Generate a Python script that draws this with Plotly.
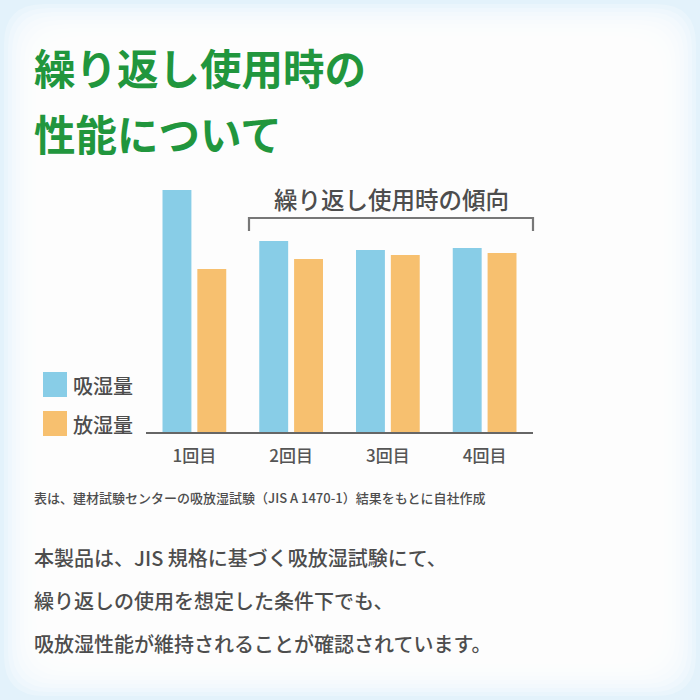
import plotly.graph_objects as go

# data (heights, arbitrary units)
rounds = ["1回目", "2回目", "3回目", "4回目"]
absorb = [242, 191, 182, 184]      # 吸湿量
release = [163, 173, 177, 179]     # 放湿量
series_names = ["吸湿量", "放湿量"]
bar_colors = ["#88cde7", "#f7c06f"]

title_lines = ["繰り返し使用時の", "性能について"]
bracket_label = "繰り返し使用時の傾向"
footnote = "表は、建材試験センターの吸放湿試験（JIS A 1470-1）結果をもとに自社作成"
body_lines = [
    "本製品は、JIS 規格に基づく吸放湿試験にて、",
    "繰り返しの使用を想定した条件下でも、",
    "吸放湿性能が維持されることが確認されています。",
]

W = H = 700
FONT = "Noto Sans CJK JP"
GRAY = "#4d4d4d"


def px(x):
    return x / W


def py(y):
    return 1 - y / H


def rounded_rect(x0, y0, x1, y1, r):
    a, b, c, d = px(x0), py(y0), px(x1), py(y1)
    rx, ry = r / W, r / H
    return (f"M {a+rx},{b} L {c-rx},{b} Q {c},{b} {c},{b-ry} "
            f"L {c},{d+ry} Q {c},{d} {c-rx},{d} L {a+rx},{d} "
            f"Q {a},{d} {a},{d+ry} L {a},{b-ry} Q {a},{b} {a+rx},{b} Z")


fig = go.Figure()
for name, vals, col in zip(series_names, [absorb, release], bar_colors):
    fig.add_trace(go.Bar(x=rounds, y=vals, name=name, marker=dict(color=col, line_width=0),
                         showlegend=False, hoverinfo="skip"))

shapes = []
# soft light-blue glow around the white card
for inset in range(4, 44, 4):
    shapes.append(dict(type="path", xref="paper", yref="paper", layer="below",
                       path=rounded_rect(inset, inset, W - inset, H - inset, 40),
                       fillcolor="white", opacity=0.25, line_width=0))

# bracket over rounds 2-4
shapes.append(dict(type="path", xref="paper", yref="paper",
                   path=f"M {px(249)},{py(231)} L {px(249)},{py(218)} L {px(533)},{py(218)} L {px(533)},{py(231)}",
                   line=dict(color="#777777", width=2.2)))

# legend swatches
for i, col in enumerate(bar_colors):
    y0 = 372 + i * 39
    shapes.append(dict(type="rect", xref="paper", yref="paper",
                       x0=px(43), x1=px(67), y0=py(y0), y1=py(y0 + 25),
                       fillcolor=col, line_width=0))

ann = []
for i, t in enumerate(title_lines):
    ann.append(dict(text=f"<b>{t}</b>", x=px(32), y=py(67 + i * 66), xref="paper", yref="paper",
                    xanchor="left", yanchor="middle", showarrow=False,
                    font=dict(family=FONT, size=41.5, color="#21963d")))
ann.append(dict(text=bracket_label, x=px(391), y=py(199), xref="paper", yref="paper",
                xanchor="center", yanchor="middle", showarrow=False,
                font=dict(family=FONT, size=23.5, color=GRAY, weight=500)))
for i, name in enumerate(series_names):
    ann.append(dict(text=name, x=px(71), y=py(385 + i * 39), xref="paper", yref="paper",
                    xanchor="left", yanchor="middle", showarrow=False,
                    font=dict(family=FONT, size=20, color=GRAY, weight=500)))
ann.append(dict(text=footnote, x=px(32), y=py(497), xref="paper", yref="paper",
                xanchor="left", yanchor="middle", showarrow=False,
                font=dict(family=FONT, size=13, color=GRAY, weight=500)))
for i, t in enumerate(body_lines):
    ann.append(dict(text=t, x=px(32), y=py(557 + i * 43), xref="paper", yref="paper",
                    xanchor="left", yanchor="middle", showarrow=False,
                    font=dict(family=FONT, size=20, color=GRAY, weight=500)))

fig.update_layout(
    width=W, height=H,
    margin=dict(l=0, r=0, t=0, b=0),
    paper_bgcolor="#e3f2fb", plot_bgcolor="rgba(0,0,0,0)",
    barmode="group", bargap=0.28, bargroupgap=0.17,
    xaxis=dict(domain=[px(146), px(533)], showline=True, linecolor="#666666", linewidth=2,
               showgrid=False, zeroline=False, ticks="", ticklabelstandoff=8,
               tickfont=dict(family=FONT, size=17, color="#555555", weight=500)),
    yaxis=dict(domain=[py(432), py(182)], range=[0, 250], visible=False),
    shapes=shapes, annotations=ann,
)

fig.write_html("out.html", config={"displayModeBar": False},
               post_script="document.body.style.margin='0';")
